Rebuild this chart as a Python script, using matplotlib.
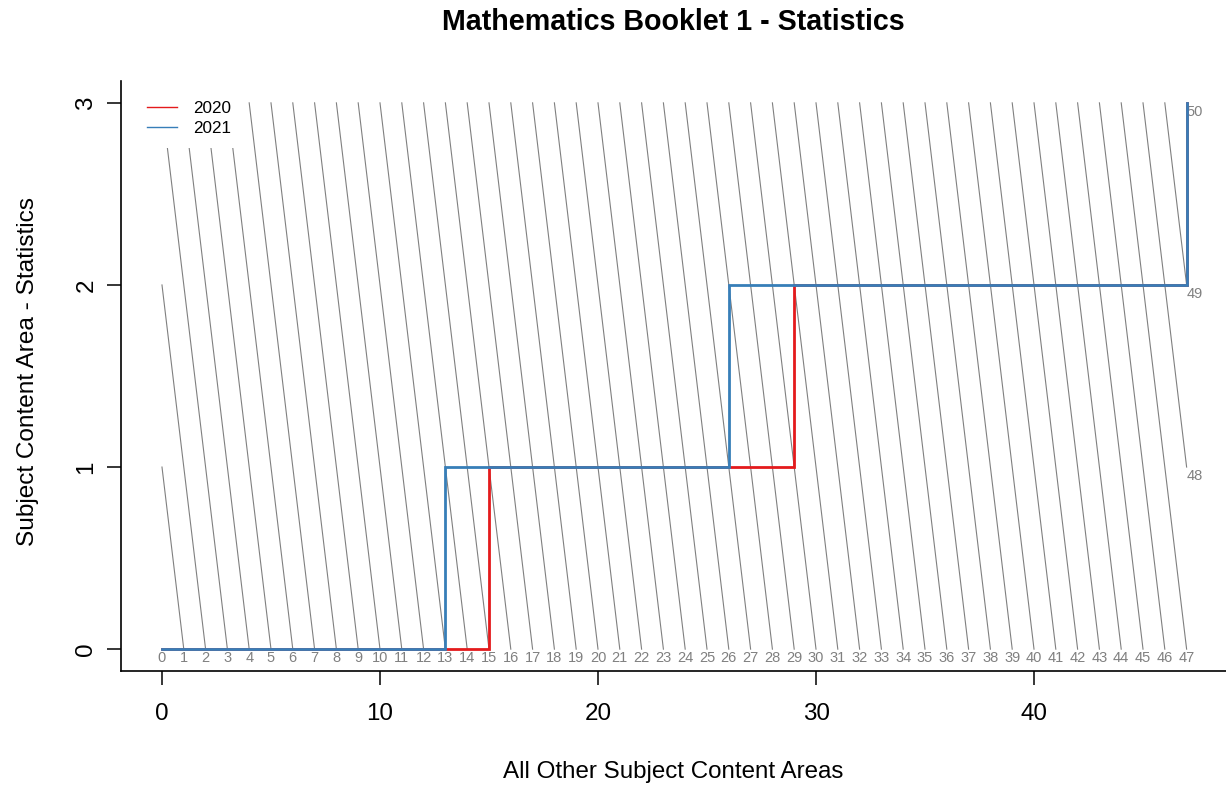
import matplotlib

matplotlib.use("Agg")
import matplotlib.pyplot as plt
from matplotlib.lines import Line2D
from matplotlib.patches import Rectangle

plt.rcParams["font.family"] = ["Liberation Sans", "DejaVu Sans"]

# data
MAX_OTHER = 47          # max score on all other content areas (x)
MAX_STATS = 3           # max score on statistics (y)
years = ["2020", "2021"]
thresholds_2020 = [15, 29, 47]   # x at which the statistics score steps up
thresholds_2021 = [13, 26, 47]
colors = {"2020": "#E41A1C", "2021": "#377EB8"}
GREY = "#808080"


def step_path(thr):
    xs, ys = [0], [0]
    for k, t in enumerate(thr):
        xs += [t, t]
        ys += [k, k + 1]
    return xs, ys


fig = plt.figure(figsize=(12.26, 7.87), dpi=100)
W, H = 1226, 787
ax = fig.add_axes([121 / W, (H - 671) / H, (1227.6 - 121) / W, (671 - 81) / H])
ax.set_xlim(-0.04 * MAX_OTHER, MAX_OTHER * 1.04)
ax.set_ylim(-0.04 * MAX_STATS, MAX_STATS * 1.04)

# iso-total lines x + y = t
for t in range(MAX_OTHER + MAX_STATS + 1):
    x0 = min(t, MAX_OTHER)
    y0 = t - x0
    y1 = min(t, MAX_STATS)
    x1 = t - y1
    ax.plot([x0, x1], [y0, y1], color=GREY, lw=0.8, zorder=1)
    if t <= MAX_OTHER:
        ax.text(t, y0 - 0.012, str(t), ha="center", va="top", fontsize=10.5,
                color=GREY)
    else:
        ax.text(x0, y0 - 0.012, str(t), ha="left", va="top", fontsize=10.5,
                color=GREY)

# step paths
for yr, thr in (("2020", thresholds_2020), ("2021", thresholds_2021)):
    xs, ys = step_path(thr)
    ax.plot(xs, ys, color=colors[yr], lw=2, zorder=3, solid_joinstyle="miter")

# legend with white background (as in the R original)
ax.add_patch(Rectangle((-1.0, 2.75), 4.6, 0.5, facecolor="white",
                       edgecolor="none", zorder=4))
handles = [Line2D([0], [0], color=colors[y], lw=1) for y in years]
ax.legend(handles, years, loc="upper left", bbox_to_anchor=(0.0095, 0.992),
          frameon=False, fontsize=12.3, handlelength=1.75, handletextpad=0.95,
          labelspacing=0.3)

for s in ("top", "right"):
    ax.spines[s].set_visible(False)
for s in ("left", "bottom"):
    ax.spines[s].set_linewidth(1.2)

ax.set_xticks([0, 10, 20, 30, 40])
ax.set_yticks([0, 1, 2, 3])
ax.tick_params(axis="both", direction="out", length=10, width=1.1,
               labelsize=17.4)
ax.tick_params(axis="x", pad=13)
ax.tick_params(axis="y", pad=7)
for lab in ax.get_yticklabels():
    lab.set_rotation(90)
    lab.set_va("center")

fig.text(673 / W, 1 - 772 / H, "All Other Subject Content Areas",
         ha="center", va="center", fontsize=17.4)
fig.text(28 / W, 1 - 372 / H, "Subject Content Area - Statistics",
         ha="center", va="center", fontsize=17.6, rotation=90)
fig.text(673 / W, 1 - 22 / H, "Mathematics Booklet 1 - Statistics",
         ha="center", va="center", fontsize=20.6, weight="bold")

fig.savefig("out.png", dpi=100, facecolor="white")
